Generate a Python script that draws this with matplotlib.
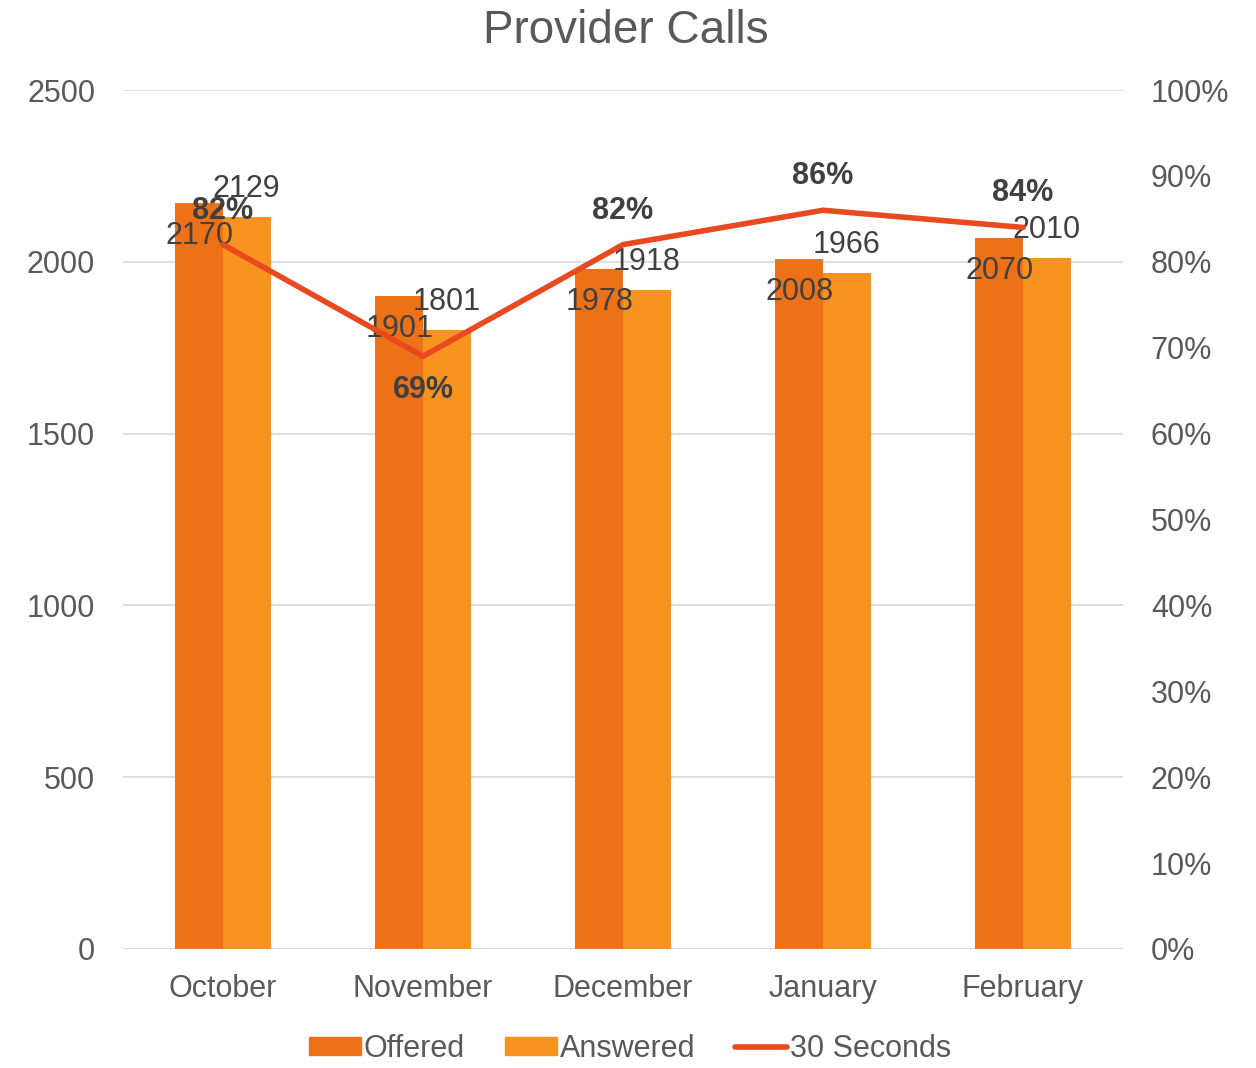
import matplotlib
matplotlib.use("Agg")
import matplotlib.pyplot as plt
import numpy as np
from matplotlib.patches import Patch
from matplotlib.lines import Line2D

months = ["October", "November", "December", "January", "February"]
offered = [2170, 1901, 1978, 2008, 2070]
answered = [2129, 1801, 1918, 1966, 2010]
pct30 = [0.82, 0.69, 0.82, 0.86, 0.84]
pct_labels = ["82%", "69%", "82%", "86%", "84%"]
pct_below = [False, True, False, False, False]

c_off = "#EC7117"
c_ans = "#F7931E"
c_line = "#E8491F"
txt = "#404040"
tick_c = "#595959"

plt.rcParams['font.family'] = ['Liberation Sans', 'DejaVu Sans']

fig = plt.figure(figsize=(12.56, 10.68), dpi=100)
ax = fig.add_axes([123/1256, 119/1068, 1000/1256, 859/1068])
ax2 = ax.twinx()

x = np.arange(len(months))
w = 0.238
ax.bar(x - w/2, offered, w, color=c_off, zorder=2)
ax.bar(x + w/2, answered, w, color=c_ans, zorder=2)

ax.set_xlim(-0.5, 4.5)
ax.set_ylim(0, 2500)
ax.set_yticks(np.arange(0, 2501, 500))
ax.grid(axis='y', color='#D9D9D9', lw=1.2, zorder=0)
ax.set_axisbelow(True)
for s in ax.spines.values():
    s.set_visible(False)
for s in ax2.spines.values():
    s.set_visible(False)
ax.axhline(0, color='#D9D9D9', lw=1.5, zorder=1)
ax.set_xticks(x)
ax.set_xticklabels(months)
ax.tick_params(axis='x', length=0, labelsize=22, colors=tick_c, pad=18)
ax.tick_params(axis='y', length=0, labelsize=22, colors=tick_c, pad=20)

ax2.set_ylim(0, 1.0)
ax2.set_yticks(np.arange(0, 1.01, 0.1))
ax2.set_yticklabels([f"{int(round(v*100))}%" for v in np.arange(0, 1.01, 0.1)])
ax2.tick_params(axis='y', length=0, labelsize=22, colors=tick_c, pad=20)

ax2.plot(x, pct30, color=c_line, lw=4, solid_capstyle='round', zorder=5)

for i in range(len(months)):
    ax.annotate(str(offered[i]), (x[i] - w/2, offered[i]), xytext=(0, -33),
                textcoords='offset pixels', ha='center', va='center',
                fontsize=22, color=txt, zorder=6)
    ax.annotate(str(answered[i]), (x[i] + w/2, answered[i]), xytext=(0, 28),
                textcoords='offset pixels', ha='center', va='center',
                fontsize=22, color=txt, zorder=6)
    dy = -34 if pct_below[i] else 34
    ax2.annotate(pct_labels[i], (x[i], pct30[i]), xytext=(0, dy),
                 textcoords='offset pixels', ha='center', va='center',
                 fontsize=22, fontweight='bold', color=txt, zorder=7)

fig.suptitle("Provider Calls", x=626/1256, y=1 - 31/1068, va='center',
             fontsize=33, color=tick_c)

handles = [Patch(color=c_off, label="Offered"),
           Patch(color=c_ans, label="Answered"),
           Line2D([0], [0], color=c_line, lw=4, solid_capstyle='round', label="30 Seconds")]
fig.legend(handles=handles, loc='center', bbox_to_anchor=(630/1256, 1 - 1049/1068),
           ncol=3, frameon=False, fontsize=22, labelcolor=tick_c,
           handlelength=1.7, handleheight=0.55, handletextpad=0.1, columnspacing=1.3)

fig.savefig("out.png", dpi=100)
